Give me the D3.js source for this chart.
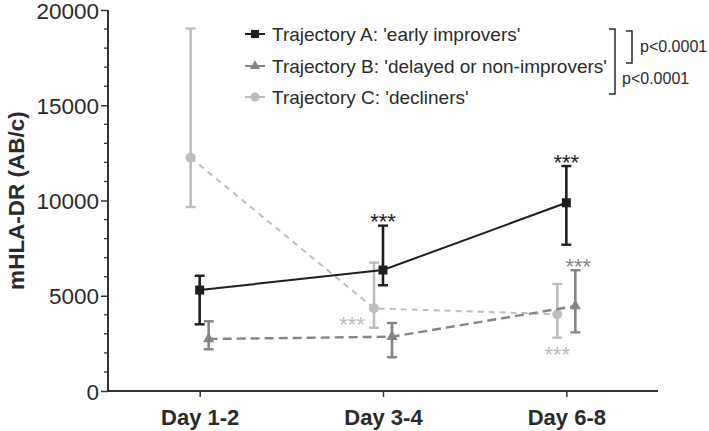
<!DOCTYPE html>
<html><head><meta charset="utf-8">
<script src="https://cdn.jsdelivr.net/npm/d3@7"></script>
<style>
html,body{margin:0;padding:0;background:#fff;}
svg text{font-family:"Liberation Sans",Arial,Helvetica,sans-serif;}
</style></head>
<body><svg id="chart" width="709" height="431"></svg>
<script>
// ---- data ----
const categories = ["Day 1-2", "Day 3-4", "Day 6-8"];
const seriesNames = ["Trajectory A: 'early improvers'", "Trajectory B: 'delayed or non-improvers'", "Trajectory C: 'decliners'"];
const meanA = [5300, 6350, 9880];
const lowA  = [3500, 5550, 7680];
const highA = [6050, 8680, 11810];
const meanB = [2730, 2850, 4460];
const lowB  = [2190, 1770, 3080];
const highB = [3660, 3570, 6340];
const meanC = [12250, 4340, 4030];
const lowC  = [9660, 3320, 2800];
const highC = [19030, 6740, 5620];
const yTicks = [0, 5000, 10000, 15000, 20000];
const yMinorTicks = d3.range(0, 20001, 1000);
const yTitle = "mHLA-DR (AB/c)";
const pLabels = ["p<0.0001", "p<0.0001"];
// significance marks: series index, category index, placement
const starSeries = [0, 0, 1, 2, 2];
const starCat    = [1, 2, 2, 1, 2];
const starPos    = ["above", "above", "above", "left", "below"];
const starText = "***";

// ---- layout/style ----
const svg = d3.select("#chart");
const mLeft = 108, mRight = 658, mTop = 10, mBottom = 391;
const x = d3.scalePoint().domain(categories).range([mLeft, mRight]).padding(0.5);
const y = d3.scaleLinear().domain([0, 20000]).range([mBottom, mTop]);
const colors = ["#1e1e1e", "#858585", "#bdbdbd"];
const dashes = [null, "9,5", "6,5"];
const widths = [2, 2.4, 2];
const offsets = [0, 9, -9];
const axisColor = "#333";

const series = [
  {mean: meanA, low: lowA, high: highA},
  {mean: meanB, low: lowB, high: highB},
  {mean: meanC, low: lowC, high: highC}
];

// axes
const yAxis = d3.axisLeft(y).tickValues(yTicks).tickSize(7).tickPadding(2).tickFormat(d3.format("d"));
const gy = svg.append("g").attr("transform", `translate(${mLeft},0)`).call(yAxis);
gy.selectAll("text").attr("font-size", 22.5).attr("fill", "#2a2a2a").attr("dy", "0.36em");
gy.selectAll("line").attr("stroke", axisColor).attr("stroke-width", 1.5);
gy.select(".domain").attr("stroke", axisColor).attr("stroke-width", 2).attr("d", `M0,${mTop}V${mBottom}`);
svg.append("g").selectAll("line").data(yMinorTicks.filter(d => !yTicks.includes(d))).join("line")
  .attr("x1", mLeft - 4).attr("x2", mLeft).attr("y1", d => y(d)).attr("y2", d => y(d))
  .attr("stroke", axisColor).attr("stroke-width", 1.3);

const xAxis = d3.axisBottom(x).tickSize(6).tickPadding(12);
const gx = svg.append("g").attr("transform", `translate(0,${mBottom})`).call(xAxis);
gx.selectAll("text").attr("font-size", 22).attr("font-weight", "bold").attr("fill", "#2a2a2a");
gx.selectAll("line").attr("stroke", axisColor).attr("stroke-width", 1.5);
gx.select(".domain").attr("stroke", axisColor).attr("stroke-width", 2).attr("d", `M${mLeft},0H${mRight}`);

svg.append("text").attr("transform", `translate(24,${(mTop + mBottom) / 2}) rotate(-90)`)
  .attr("text-anchor", "middle").attr("font-size", 22.5).attr("font-weight", "bold").attr("fill", "#2a2a2a")
  .text(yTitle);

// series lines, error bars, markers (draw C, B, A order so A on top)
function marker(g, i, cx, cy, scale) {
  const s = scale || 1;
  if (i === 0) g.append("rect").attr("x", cx - 4.5 * s).attr("y", cy - 4.5 * s).attr("width", 9 * s).attr("height", 9 * s).attr("fill", colors[0]);
  else if (i === 1) g.append("path").attr("d", d3.symbol(d3.symbolTriangle, 55 * s * s)()).attr("transform", `translate(${cx},${cy})`).attr("fill", colors[1]);
  else g.append("circle").attr("cx", cx).attr("cy", cy).attr("r", 5 * s).attr("fill", colors[2]);
}

[2, 1, 0].forEach(i => {
  const s = series[i];
  const g = svg.append("g");
  const px = c => x(categories[c]) + offsets[i];
  const line = d3.line().x((d, c) => px(c)).y(d => y(d));
  g.append("path").attr("d", line(s.mean)).attr("fill", "none").attr("stroke", colors[i])
    .attr("stroke-width", widths[i]).attr("stroke-dasharray", dashes[i]);
  categories.forEach((cat, c) => {
    const cx = px(c);
    g.append("line").attr("x1", cx).attr("x2", cx).attr("y1", y(s.low[c])).attr("y2", y(s.high[c]))
      .attr("stroke", colors[i]).attr("stroke-width", 2.6);
    [s.low[c], s.high[c]].forEach(v => {
      g.append("line").attr("x1", cx - 5).attr("x2", cx + 5).attr("y1", y(v)).attr("y2", y(v))
        .attr("stroke", colors[i]).attr("stroke-width", 2.4);
    });
    marker(g, i, cx, y(s.mean[c]));
  });
});

// significance stars
starSeries.forEach((si, k) => {
  const c = starCat[k];
  const s = series[si];
  const cx = x(categories[c]) + offsets[si];
  let tx = cx, ty, anchor = "middle";
  if (starPos[k] === "above") { ty = y(s.high[c]) - 9; if (si === 1) tx = cx + 3; }
  else if (starPos[k] === "below") { ty = y(s.low[c]) + 12; }
  else { ty = y(s.mean[c]) + 11; tx = cx - 9; anchor = "end"; }
  svg.append("text").attr("x", tx).attr("y", ty + 12.5).attr("text-anchor", anchor)
    .attr("font-size", 22).attr("fill", colors[si]).text(starText);
});

// legend
const legY = [34, 66, 97];
seriesNames.forEach((name, i) => {
  const g = svg.append("g");
  g.append("line").attr("x1", 245).attr("x2", 265).attr("y1", legY[i]).attr("y2", legY[i])
    .attr("stroke", colors[i]).attr("stroke-width", 2);
  marker(g, i, 255, legY[i], 0.9);
  g.append("text").attr("x", 272).attr("y", legY[i]).attr("dy", "0.35em").attr("font-size", 19)
    .attr("fill", "#2a2a2a").text(name);
});

// brackets
const br = svg.append("g").attr("fill", "none").attr("stroke", "#2a2a2a").attr("stroke-width", 1.5);
br.append("path").attr("d", `M609,${legY[0] - 5}H615V${legY[2] - 3}H609`);
br.append("path").attr("d", `M626,${legY[0] - 3}H632V${legY[1] - 3}H626`);
svg.append("text").attr("x", 640).attr("y", 46).attr("dy", "0.35em").attr("font-size", 16).attr("fill", "#2a2a2a").text(pLabels[0]);
svg.append("text").attr("x", 622).attr("y", 78).attr("dy", "0.35em").attr("font-size", 16).attr("fill", "#2a2a2a").text(pLabels[1]);
</script></body></html>
